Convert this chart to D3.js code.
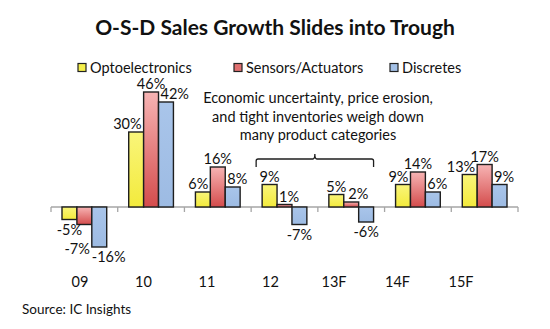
<!DOCTYPE html>
<html><head><meta charset="utf-8">
<script src="https://cdn.jsdelivr.net/npm/d3@7/dist/d3.min.js"></script>
<style>body{margin:0;background:#fff}svg{display:block}text{font-family:Lato,"Noto Sans",sans-serif;fill:#111}</style>
</head><body><svg id="c" width="550" height="329"></svg>
<script>
const categories = ["09","10","11","12","13F","14F","15F"];
const seriesNames = ["Optoelectronics","Sensors/Actuators","Discretes"];
const opto = [-5,30,6,9,5,9,13];
const sensors = [-7,46,16,1,2,14,17];
const discretes = [-16,42,8,-7,-6,6,9];
const title = "O-S-D Sales Growth Slides into Trough";
const noteLines = ["Economic uncertainty, price erosion,","and tight inventories weigh down","many product categories"];
const noteGroups = ["12","13F"];
const source = "Source: IC Insights";

const series = [opto, sensors, discretes];
const svg = d3.select("#c");
const defs = svg.append("defs");
const gY = defs.append("linearGradient").attr("id","gY").attr("x1",0).attr("y1",0).attr("x2",0).attr("y2",1);
gY.append("stop").attr("offset",0).attr("stop-color","#f9f57a");
gY.append("stop").attr("offset",1).attr("stop-color","#f3ea3c");
const gR = defs.append("linearGradient").attr("id","gR").attr("x1",0).attr("y1",0).attr("x2",0).attr("y2",1);
gR.append("stop").attr("offset",0).attr("stop-color","#f7b4b4");
gR.append("stop").attr("offset",1).attr("stop-color","#d44c4c");
const gB = defs.append("linearGradient").attr("id","gB").attr("x1",0).attr("y1",0).attr("x2",0).attr("y2",1);
gB.append("stop").attr("offset",0).attr("stop-color","#a9c5ea");
gB.append("stop").attr("offset",1).attr("stop-color","#9dbbe3");
const fills = ["url(#gY)","url(#gR)","url(#gB)"];
const swatchFills = ["#f5ef4a","#e07070","#a3c0e6"];

const x0 = d3.scaleBand().domain(categories).range([51,518]).paddingInner(0).paddingOuter(0);
const x1 = d3.scaleBand().domain(d3.range(3)).range([11, x0.bandwidth()-11]);
const y = d3.scaleLinear().domain([-20,50]).range([257, 82]);
const xl = d3.scalePoint().domain(categories).range([80,461]);

// title
svg.append("text").attr("x",275).attr("y",35).attr("text-anchor","middle")
  .style("font-size","21px").style("font-weight","bold").text(title);

// legend
const legX = d3.scalePoint().domain(seriesNames).range([78,390]);
const lg = svg.append("g").selectAll("g").data(seriesNames).join("g")
  .attr("transform",d=>`translate(${legX(d)},63.5)`);
lg.append("rect").attr("width",8).attr("height",8).attr("fill",(d,i)=>swatchFills[i]).attr("stroke","#222").attr("stroke-width",1.2);
lg.append("text").attr("x",12).attr("y",9.5).style("font-size","14.5px").text(d=>d);

// axis line
svg.append("line").attr("x1",51).attr("x2",518).attr("y1",y(0)).attr("y2",y(0)).attr("stroke","#a6a6a6").attr("stroke-width",1.3);
const tickPos = categories.map(c=>x0(c)).concat([x0.range()[1]]);
svg.append("g").selectAll("line").data(tickPos).join("line")
  .attr("x1",d=>d).attr("x2",d=>d).attr("y1",y(0)).attr("y2",y(0)+5).attr("stroke","#a6a6a6").attr("stroke-width",1.3);

// bars
const bars = [];
categories.forEach((c,ci)=>{
  series.forEach((s,si)=>{
    const v = s[ci];
    const bx = x0(c)+x1(si), bw = x1.bandwidth();
    const top = Math.min(y(v),y(0)), bot = Math.max(y(v),y(0));
    bars.push({c,ci,si,v,x:bx,w:bw,top,bot});
  });
});
svg.append("g").selectAll("rect").data(bars).join("rect")
  .attr("x",d=>d.x).attr("y",d=>d.top).attr("width",d=>d.w).attr("height",d=>Math.max(d.bot-d.top,1.5))
  .attr("fill",d=>fills[d.si]).attr("stroke","#1e1e1e").attr("stroke-width",1.4);

// labels with simple collision avoidance
const fs = 14.5;
const ctx = document.createElement("canvas").getContext("2d");
ctx.font = `${fs}px Lato`;
function overlap(a,b){return a.x1<b.x2 && a.x2>b.x1 && a.y1<b.y2 && a.y2>b.y1;}
const labels = [];
categories.forEach((c,ci)=>{
  const gb = bars.filter(b=>b.ci===ci);
  const placed = [];
  gb.forEach(b=>{
    const txt = b.v+"%";
    const w = ctx.measureText(txt).width;
    const h = fs*0.68;
    const pos = b.v>=0;
    let cx = b.x+b.w/2;
    let baseY = pos ? b.top-3 : b.bot+5.5+h;
    let dir = b.si===2 ? 1 : (b.si===0 ? -1 : 0);
    const box = ()=>({x1:cx-w/2, x2:cx+w/2, y1:baseY-h, y2:baseY});
    const obst = ()=>gb.filter(o=>o!==b).map(o=>({x1:o.x,x2:o.x+o.w,y1:o.top,y2:o.bot})).concat(placed);
    let guard=0, dx=0; const c0=cx; const dir0=dir;
    while(guard++<20){
      const bx = box();
      const hit = obst().find(o=>overlap(bx,o));
      if(!hit) break;
      const nR = hit.x2-bx.x1+2, nL = -(bx.x2-hit.x1+2);
      let d = dir;
      if(d===0) d = Math.abs(nR)<Math.abs(nL) ? 1 : -1;
      dir = d;
      const need = d>0 ? nR : nL;
      if(Math.abs(dx+need)>20){
        dx=0; cx=c0; dir=dir0;
        baseY += pos ? -(h+2) : (h+4);
      } else { dx+=need; cx=c0+dx; }
    }
    placed.push(box());
    labels.push({txt,x:cx,y:baseY});
  });
});
svg.append("g").selectAll("text").data(labels).join("text")
  .attr("x",d=>d.x).attr("y",d=>d.y).attr("text-anchor","middle").style("font-size",fs+"px").text(d=>d.txt);

// category labels
svg.append("g").selectAll("text").data(categories).join("text")
  .attr("x",d=>xl(d)).attr("y",287).attr("text-anchor","middle").style("font-size","14.5px").text(d=>d);

// annotation
const bL = x0(noteGroups[0])+5, bR = x0(noteGroups[1])+x0.bandwidth()-11, bM=(bL+bR)/2;
const by = 159;
svg.append("path").attr("fill","none").attr("stroke","#1e1e1e").attr("stroke-width",1.3)
  .attr("d",`M${bL},${by+8} L${bL},${by+2} Q${bL},${by} ${bL+2},${by} L${bM-2},${by} Q${bM},${by} ${bM},${by-5} Q${bM},${by} ${bM+2},${by} L${bR-2},${by} Q${bR},${by} ${bR},${by+2} L${bR},${by+8}`);
svg.append("g").selectAll("text").data(noteLines).join("text")
  .attr("x",318).attr("y",(d,i)=>103+i*18.5).attr("text-anchor","middle").style("font-size","14.5px").text(d=>d);

svg.append("text").attr("x",22).attr("y",314).style("font-size","13.5px").text(source);
</script></body></html>
